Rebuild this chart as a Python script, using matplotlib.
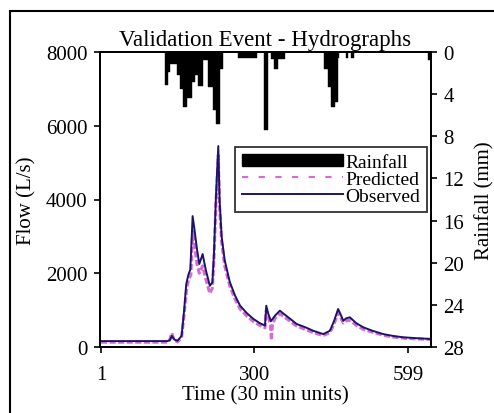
import matplotlib
matplotlib.use("Agg")
import matplotlib.pyplot as plt
from matplotlib.patches import Patch, Rectangle
from matplotlib.lines import Line2D

plt.rcParams['font.family'] = ['Liberation Serif', 'DejaVu Serif']

# ---- data ----
obs_t = [1, 130, 135, 139, 144, 150, 158, 163, 167, 171, 175, 179.5, 183, 188, 192.5, 199, 205, 213,
         218, 221, 225, 229.5, 232, 236, 242, 252, 262, 272, 285, 298, 310, 320.5, 323, 327, 332,
         340, 349.5, 357, 370, 382, 400, 414.5, 434, 447, 455, 463, 468, 473, 479, 486, 498, 512,
         530, 551, 570, 590, 615, 644]
obs_q = [160, 160, 180, 300, 200, 170, 300, 1000, 1700, 1950, 2100, 3550, 3200, 2650, 2250, 2520,
         2100, 1660, 1750, 2500, 4100, 5450, 4000, 3000, 2350, 1760, 1400, 1120, 920, 760, 650, 580,
         1120, 900, 700, 850, 985, 900, 760, 625, 530, 440, 350, 440, 700, 1030, 880, 713, 780,
         805, 650, 534, 440, 350, 300, 263, 240, 217]

pred_t = [1, 130, 135, 139, 143, 150, 158, 163, 168, 172, 176, 179.5, 183, 188, 192.5, 199, 205,
          213, 218, 221, 225, 229.5, 232, 236, 242, 252, 262, 272, 285, 298, 310, 320.5, 323, 327,
          331, 333, 335, 340, 349.5, 357, 370, 382, 400, 414.5, 434, 447, 455, 463, 468, 473, 479,
          486, 498, 512, 530, 551, 570, 590, 615, 644]
pred_q = [130, 130, 200, 380, 200, 140, 250, 900, 1600, 1850, 1950, 3150, 2800, 2250, 2000, 2200,
          1850, 1450, 1600, 2350, 3900, 5200, 3800, 2850, 2200, 1650, 1300, 1030, 840, 690, 590,
          520, 1000, 800, 620, 180, 600, 780, 900, 830, 690, 570, 470, 390, 310, 390, 620, 930,
          800, 650, 710, 730, 590, 480, 400, 320, 270, 240, 220, 205]

rain_start = [126, 130.6, 136, 149, 155.5, 161, 169, 177.6, 184, 190.5, 200, 209, 219, 225.5, 232,
              268, 319, 332, 338.6, 346.4, 435, 444, 450, 457, 462, 478, 489, 638.5]
rain_end = [130.6, 136, 149, 155.5, 161, 169, 177.6, 184, 190.5, 200, 209, 219, 225.5, 232, 238.5,
            304, 326.8, 338.6, 346.4, 359, 444, 450, 457, 462, 465, 483, 494, 644]
rain_mm = [3.1, 1.9, 1.1, 2.2, 3.5, 5.2, 4.4, 2.8, 2.2, 3.2, 0.8, 3.3, 5.5, 6.8, 1.6,
           0.6, 7.4, 0.7, 1.6, 0.7, 1.6, 3.3, 5.2, 4.7, 0.6, 0.6, 0.6, 0.8]

x_ticks = [1, 300, 599]
flow_ticks = [0, 2000, 4000, 6000, 8000]
rain_ticks = [0, 4, 8, 12, 16, 20, 24, 28]

# ---- figure ----
W, H = 494, 414
fig = plt.figure(figsize=(W / 100, H / 100), dpi=100)
ax = fig.add_axes([100 / W, 1 - 348 / H, 331 / W, 295 / H])
ax2 = ax.twinx()

fs = 15
obs_color = '#1c1466'
pred_color = '#d86ad8'

ax.plot(pred_t, pred_q, color=pred_color, lw=2.2, ls=(0, (2.0, 0.8)), zorder=2)
ax.plot(obs_t, obs_q, color=obs_color, lw=1.4, zorder=3)

widths = [e - s for s, e in zip(rain_start, rain_end)]
ax2.bar(rain_start, rain_mm, width=widths, align='edge', color='black', edgecolor='black', lw=0.3)

ax.set_xlim(-1, 644)
ax.set_ylim(0, 8000)
ax2.set_ylim(28, 0)
ax.set_xticks(x_ticks)
ax.set_yticks(flow_ticks)
ax2.set_yticks(rain_ticks)

for a in (ax, ax2):
    for s in a.spines.values():
        s.set_linewidth(1.3)
    a.tick_params(direction='out', length=4, width=1.2, labelsize=fs, pad=5)
ax.tick_params(axis='x', pad=9)

ax.set_xlabel('Time (30 min units)', fontsize=fs, labelpad=1)
ax.set_ylabel('Flow (L/s)', fontsize=fs, labelpad=7)
ax2.set_ylabel('Rainfall (mm)', fontsize=fs, labelpad=8)
ax.set_title('Validation Event - Hydrographs', fontsize=16.5, pad=5)

handles = [Patch(facecolor='black', edgecolor='black'),
           Line2D([], [], color=pred_color, lw=1.5, ls=(0, (3, 5))),
           Line2D([], [], color=obs_color, lw=1.4)]
labels = ['Rainfall', 'Predicted', 'Observed']
leg = ax2.legend(handles, labels, loc='upper right', bbox_to_anchor=(0.988, 0.678),
                 fontsize=14, frameon=True, fancybox=False, edgecolor='black',
                 handlelength=5.2, handleheight=0.55, handletextpad=0.1, labelspacing=0.0,
                 borderpad=0.35, borderaxespad=0)
leg.get_frame().set_linewidth(1.3)

# outer frame
fig.patches.append(Rectangle((10 / W, -0.05), 1.0, 1 - 12 / H + 0.05, transform=fig.transFigure,
                             fill=False, edgecolor='black', lw=1.5))

fig.savefig('out.png', dpi=100)
